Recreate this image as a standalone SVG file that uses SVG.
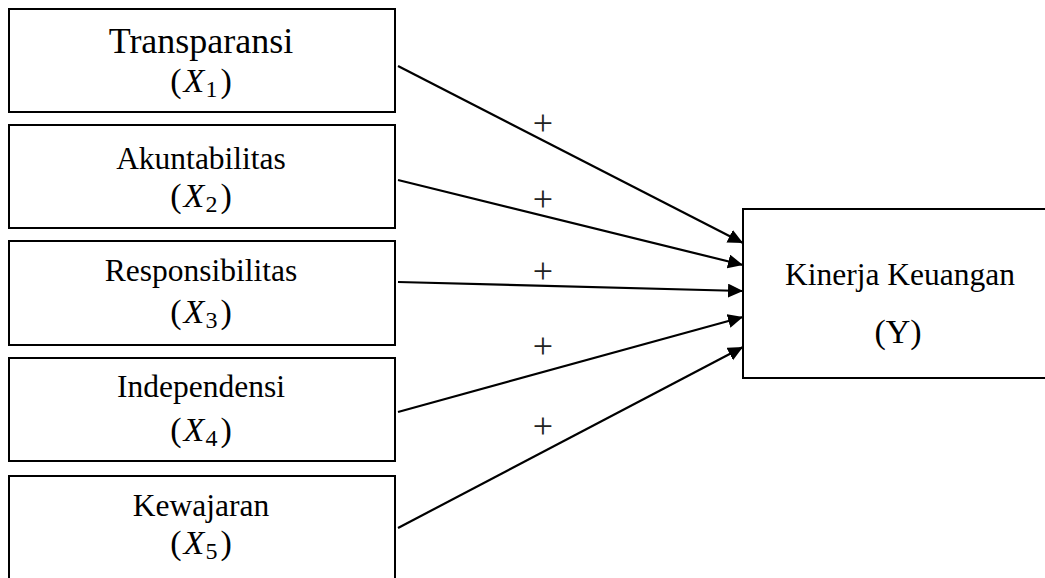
<svg xmlns="http://www.w3.org/2000/svg" width="1045" height="578" viewBox="0 0 1045 578">
<style>
.box{fill:#fff;stroke:#000;stroke-width:2}
.t{font-family:"Liberation Serif","Times New Roman",serif;fill:#000;text-anchor:middle}
.lbl{font-size:31.5px}
.var{font-size:34px}
.sub{font-size:24px;font-style:normal}
.it{font-style:italic}
.plus{font-family:"Liberation Serif",serif;font-size:36px;fill:#222;text-anchor:middle}
.conn{stroke:#000;stroke-width:2.2;fill:none;marker-end:url(#ah)}
</style>
<defs>
<marker id="ah" markerUnits="userSpaceOnUse" markerWidth="16" markerHeight="15" refX="15" refY="7" orient="auto">
<path d="M0,0 L15,7 L0,14 Z" fill="#000"/>
</marker>
</defs>
<rect width="1045" height="578" fill="#fff"/>
<g id="n1">
<rect class="box" x="9" y="9" width="386" height="103"/>
<text class="t" x="201" y="53" style="font-size:36px">Transparansi</text>
<text class="t var" x="201" y="92">(<tspan class="it" dx="2">X</tspan><tspan class="sub" dy="5" dx="1">1</tspan><tspan dy="-5" dx="3">)</tspan></text>
</g>
<g id="n2">
<rect class="box" x="9" y="125" width="386" height="103"/>
<text class="t lbl" x="201" y="169">Akuntabilitas</text>
<text class="t var" x="201" y="207">(<tspan class="it" dx="2">X</tspan><tspan class="sub" dy="5" dx="1">2</tspan><tspan dy="-5" dx="3">)</tspan></text>
</g>
<g id="n3">
<rect class="box" x="9" y="241" width="386" height="104"/>
<text class="t lbl" x="201" y="281">Responsibilitas</text>
<text class="t var" x="201" y="323">(<tspan class="it" dx="2">X</tspan><tspan class="sub" dy="5" dx="1">3</tspan><tspan dy="-5" dx="3">)</tspan></text>
</g>
<g id="n4">
<rect class="box" x="9" y="358" width="386" height="103"/>
<text class="t lbl" x="201" y="397">Independensi</text>
<text class="t var" x="201" y="441">(<tspan class="it" dx="2">X</tspan><tspan class="sub" dy="5" dx="1">4</tspan><tspan dy="-5" dx="3">)</tspan></text>
</g>
<g id="n5">
<rect class="box" x="9" y="476" width="386" height="110"/>
<text class="t lbl" x="201" y="516">Kewajaran</text>
<text class="t var" x="201" y="554">(<tspan class="it" dx="2">X</tspan><tspan class="sub" dy="5" dx="1">5</tspan><tspan dy="-5" dx="3">)</tspan></text>
</g>
<g id="ny">
<rect class="box" x="743" y="209" width="320" height="169"/>
<text class="t lbl" x="900" y="285">Kinerja Keuangan</text>
<text class="t" x="898" y="343" style="font-size:34px">(Y)</text>
</g>
<g id="connectors">
<line class="conn" x1="398" y1="66" x2="743" y2="243"/>
<line class="conn" x1="398" y1="180" x2="743" y2="265"/>
<line class="conn" x1="398" y1="282" x2="743" y2="291"/>
<line class="conn" x1="398" y1="412" x2="743" y2="317"/>
<line class="conn" x1="398" y1="528" x2="743" y2="347"/>
<text class="plus" x="543" y="135">+</text>
<text class="plus" x="543" y="211">+</text>
<text class="plus" x="543" y="283">+</text>
<text class="plus" x="543" y="358">+</text>
<text class="plus" x="543" y="438">+</text>
</g>
</svg>
